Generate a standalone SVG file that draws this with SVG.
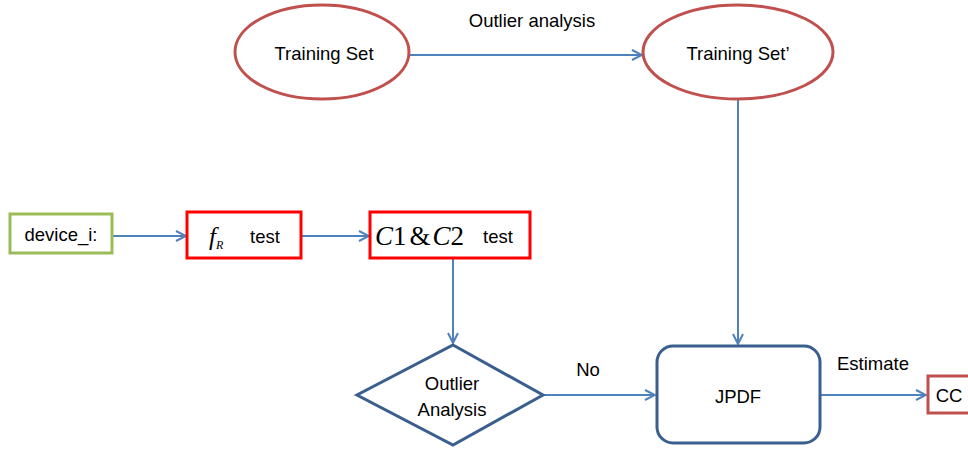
<svg xmlns="http://www.w3.org/2000/svg" width="968" height="451" viewBox="0 0 968 451">
<defs>
<style>
.lbl{font-family:"Liberation Sans","DejaVu Sans",sans-serif;font-size:18.5px;fill:#000;text-anchor:middle;dominant-baseline:central}
.ell{fill:#fff;stroke:#C0504D;stroke-width:3}
.red{fill:#fff;stroke:#FF0000;stroke-width:3}
.blue{fill:#fff;stroke:#3A5F8E;stroke-width:3}
.conn{fill:none;stroke:#4F81BD;stroke-width:2}
.math{font-family:"Liberation Serif","DejaVu Serif",serif;fill:#000}
</style>
<marker id="arr" viewBox="0 0 12 12" refX="11" refY="6" markerWidth="12" markerHeight="12" markerUnits="userSpaceOnUse" orient="auto">
<path d="M1,1 L11,6 L1,11" fill="none" stroke="#4F81BD" stroke-width="2"/>
</marker>
</defs>
<rect width="968" height="451" fill="#fff"/>
<g id="connectors">
<line class="conn" x1="410" y1="55" x2="642" y2="55" marker-end="url(#arr)"/>
<line class="conn" x1="738" y1="100" x2="738" y2="344" marker-end="url(#arr)"/>
<line class="conn" x1="112" y1="236" x2="186" y2="236" marker-end="url(#arr)"/>
<line class="conn" x1="301" y1="236" x2="369" y2="236" marker-end="url(#arr)"/>
<line class="conn" x1="453" y1="259" x2="453" y2="343" marker-end="url(#arr)"/>
<line class="conn" x1="543" y1="395" x2="655" y2="395" marker-end="url(#arr)"/>
<line class="conn" x1="820" y1="395" x2="926" y2="395" marker-end="url(#arr)"/>
<text class="lbl" x="532" y="20">Outlier analysis</text>
<text class="lbl" x="588" y="369">No</text>
<text class="lbl" x="873" y="363">Estimate</text>
</g>
<g id="training_set">
<ellipse class="ell" cx="322" cy="52" rx="87" ry="47"/>
<text class="lbl" x="324" y="53">Training Set</text>
</g>
<g id="training_set2">
<ellipse class="ell" cx="738" cy="52" rx="95" ry="47"/>
<text class="lbl" x="738" y="53">Training Set’</text>
</g>
<g id="device_i">
<rect x="10" y="214" width="102" height="39" fill="#fff" stroke="#9BBB59" stroke-width="3"/>
<text class="lbl" x="61" y="234">device_i:</text>
</g>
<g id="fr_test">
<rect class="red" x="187" y="212" width="114" height="46"/>
<text x="209" y="245" class="math" font-size="25" font-style="italic">f<tspan font-size="12" dy="4">R</tspan></text>
<text class="lbl" x="265" y="236">test</text>
</g>
<g id="c1c2_test">
<rect class="red" x="370" y="212" width="160" height="46"/>
<text x="375" y="245" class="math" font-size="27"><tspan font-style="italic">C</tspan>1<tspan dx="3">&amp;</tspan><tspan dx="2" font-style="italic">C</tspan>2</text>
<text class="lbl" x="498" y="236">test</text>
</g>
<g id="outlier_analysis">
<polygon class="blue" points="453,345 543,395 453,445 357,395"/>
<text class="lbl" x="452" y="383">Outlier</text>
<text class="lbl" x="452" y="409">Analysis</text>
</g>
<g id="jpdf">
<rect class="blue" x="657" y="346" width="163" height="97" rx="16"/>
<text class="lbl" x="738" y="396" font-size="22">JPDF</text>
</g>
<g id="cc">
<rect x="928" y="376" width="44" height="37" fill="#fff" stroke="#C0504D" stroke-width="3"/>
<text class="lbl" x="949" y="395">CC</text>
</g>
</svg>
